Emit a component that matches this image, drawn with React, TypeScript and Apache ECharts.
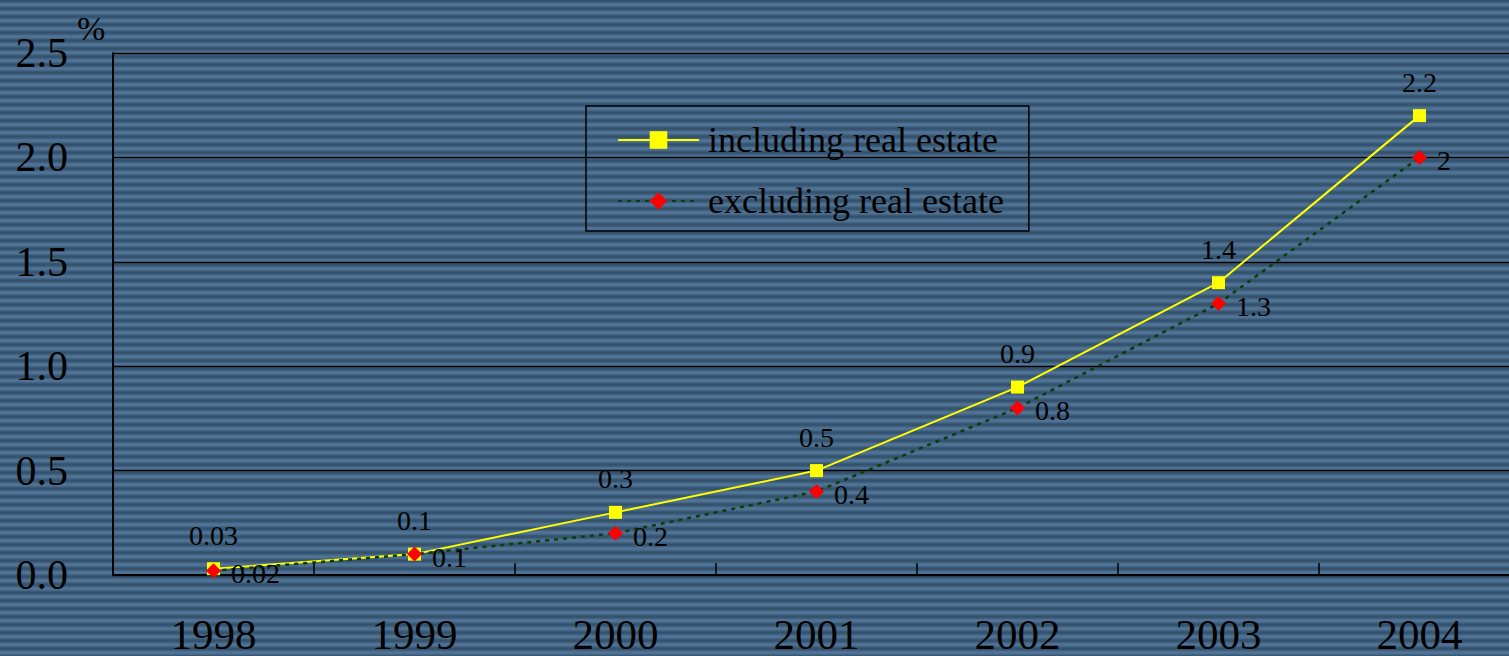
import React, { useEffect, useRef } from "react";
import * as echarts from "echarts";

const years = ["1998", "1999", "2000", "2001", "2002", "2003", "2004"];
const includingRealEstate = [0.03, 0.1, 0.3, 0.5, 0.9, 1.4, 2.2];
const excludingRealEstate = [0.02, 0.1, 0.2, 0.4, 0.8, 1.3, 2];
const seriesNames = ["including real estate", "excluding real estate"];
const unitLabel = "%";

const FONT = '"Liberation Serif", "Times New Roman", serif';

export default function App() {
  const ref = useRef<HTMLDivElement>(null);
  useEffect(() => {
    if (!ref.current) return;
    const chart = echarts.init(ref.current, undefined, { renderer: "svg" });
    chart.setOption({
      animation: false,
      backgroundColor: "transparent",
      textStyle: { fontFamily: FONT, color: "#000" },
      grid: { left: 113, top: 53, width: 1407, height: 522, containLabel: false },
      legend: {
        orient: "vertical",
        left: 586,
        top: 106,
        padding: [16, 25, 12, 31],
        itemWidth: 81,
        itemHeight: 22,
        itemGap: 25,
        borderColor: "#000",
        borderWidth: 1.5,
        backgroundColor: "transparent",
        textStyle: { fontFamily: FONT, fontSize: 36, color: "#000", padding: [0, 0, 0, 4] },
        data: seriesNames,
      },
      graphic: [
        {
          type: "text",
          left: 77,
          top: 11,
          style: { text: unitLabel, fontFamily: FONT, fontSize: 34, fill: "#000" },
        },
      ],
      xAxis: {
        type: "category",
        data: years,
        boundaryGap: true,
        axisLine: { lineStyle: { color: "#000", width: 2 } },
        axisTick: { show: true, inside: true, length: 12, lineStyle: { color: "#000", width: 1.5 } },
        axisLabel: { fontFamily: FONT, fontSize: 43, color: "#000", margin: 38 },
        splitLine: { show: false },
      },
      yAxis: {
        type: "value",
        min: 0,
        max: 2.5,
        interval: 0.5,
        axisLine: { show: true, lineStyle: { color: "#000", width: 2 } },
        axisTick: { show: false },
        axisLabel: {
          fontFamily: FONT,
          fontSize: 42,
          color: "#000",
          margin: 45,
          formatter: (v: number) => v.toFixed(1),
        },
        splitLine: { show: true, lineStyle: { color: "#000", width: 1.4 } },
      },
      series: [
        {
          name: seriesNames[0],
          type: "line",
          data: includingRealEstate,
          symbol: "rect",
          symbolSize: 13,
          itemStyle: { color: "#ffff00" },
          lineStyle: { color: "#ffff00", width: 2 },
          label: {
            show: true,
            position: "top",
            distance: 13,
            fontFamily: FONT,
            fontSize: 28,
            color: "#000",
          },
          z: 3,
        },
        {
          name: seriesNames[1],
          type: "line",
          data: excludingRealEstate,
          symbol: "diamond",
          symbolSize: 15,
          itemStyle: { color: "#ff0000" },
          lineStyle: { color: "#0b3d0b", width: 2.5, type: [4, 5] },
          label: {
            show: true,
            position: "right",
            distance: 10,
            offset: [0, 3],
            fontFamily: FONT,
            fontSize: 28,
            color: "#000",
          },
          z: 4,
        },
      ],
    });
    return () => chart.dispose();
  }, []);
  return (
    <div
      style={{
        position: "fixed",
        left: 0,
        top: 0,
        width: 1509,
        height: 656,
        overflow: "hidden",
        background:
          "repeating-linear-gradient(to bottom, #33506a 0px, #3a5873 2px, #51769a 4px, #4a6e8e 6px, #33506a 8px)",
      }}
    >
      <div ref={ref} style={{ width: 1540, height: 656 }} />
    </div>
  );
}
